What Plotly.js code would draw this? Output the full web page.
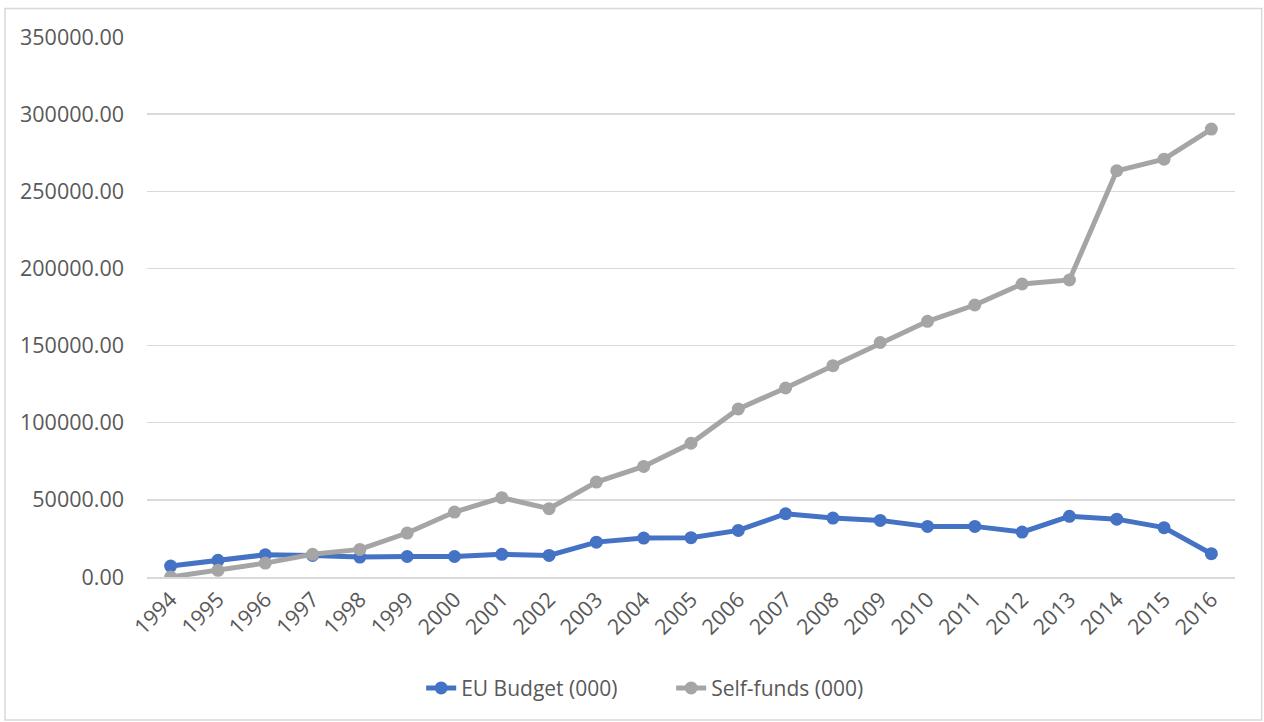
<!DOCTYPE html>
<html>
<head>
<meta charset="utf-8">
<script src="https://cdn.plot.ly/plotly-3.0.1.min.js"></script>
<style>
  html, body { margin: 0; padding: 0; background: #ffffff; }
  #chart { width: 1264px; height: 722px; }
</style>
</head>
<body>
<div id="chart"></div>
<script>
const years = ["1994","1995","1996","1997","1998","1999","2000","2001","2002","2003","2004","2005",
               "2006","2007","2008","2009","2010","2011","2012","2013","2014","2015","2016"];
const euBudget = [7100, 10800, 14400, 14000, 12900, 13300, 13300, 14700, 14000, 22600, 25200, 25500,
                  30200, 41000, 38200, 36700, 32800, 32800, 29100, 39300, 37500, 32000, 15100];
const selfFunds = [0, 4300, 9000, 14700, 17900, 28500, 42100, 51400, 44300, 61500, 71700, 86700,
                   108900, 122500, 137000, 152000, 165700, 176300, 189900, 192500, 263300, 270800, 290300];
const seriesNames = ["EU Budget (000)", "Self-funds (000)"];
const yTicks = [0, 50000, 100000, 150000, 200000, 250000, 300000, 350000];

const font = "'Open Sans', 'Noto Sans', sans-serif";
const textColor = "#595959";

const traces = [
  {
    x: years, y: euBudget, name: seriesNames[0], type: "scatter", mode: "lines+markers",
    line: { color: "#4472C4", width: 5 },
    marker: { color: "#4472C4", size: 13 }
  },
  {
    x: years, y: selfFunds, name: seriesNames[1], type: "scatter", mode: "lines+markers",
    line: { color: "#A5A5A5", width: 5 },
    marker: { color: "#A5A5A5", size: 13 }
  }
];

const layout = {
  width: 1264, height: 722,
  margin: { l: 147, r: 29, t: 37, b: 145 },
  paper_bgcolor: "#ffffff",
  plot_bgcolor: "#ffffff",
  font: { family: font, color: textColor, size: 21.5 },
  showlegend: true,
  legend: {
    orientation: "h", x: 0.252, xanchor: "left", y: -0.206, yanchor: "middle",
    font: { family: font, size: 21, color: textColor },
    entrywidth: 205, entrywidthmode: "pixels",
    tracegroupgap: 0
  },
  xaxis: {
    type: "category",
    range: [-0.5, 22.5],
    tickangle: -45,
    ticks: "",
    showgrid: false,
    showline: true, linecolor: "#D9D9D9", linewidth: 1.5,
    zeroline: false,
    tickfont: { family: font, size: 21.5, color: textColor },
    fixedrange: true
  },
  yaxis: {
    range: [0, 350000],
    tickvals: yTicks,
    tickformat: ".2f",
    ticks: "",
    ticklabelstandoff: 22,
    showgrid: true, gridcolor: "#D9D9D9", gridwidth: 1.5,
    zeroline: false,
    showline: false,
    tickfont: { family: font, size: 21.5, color: textColor },
    fixedrange: true
  },
  shapes: [
    {
      type: "rect", xref: "paper", yref: "paper",
      x0: -0.1305, x1: 1.0245, y0: -0.265, y1: 1.053,
      line: { color: "#D9D9D9", width: 1.5 }, fillcolor: "rgba(0,0,0,0)", layer: "below"
    }
  ]
};

Plotly.newPlot("chart", traces, layout, { staticPlot: true, displayModeBar: false });
</script>
</body>
</html>
